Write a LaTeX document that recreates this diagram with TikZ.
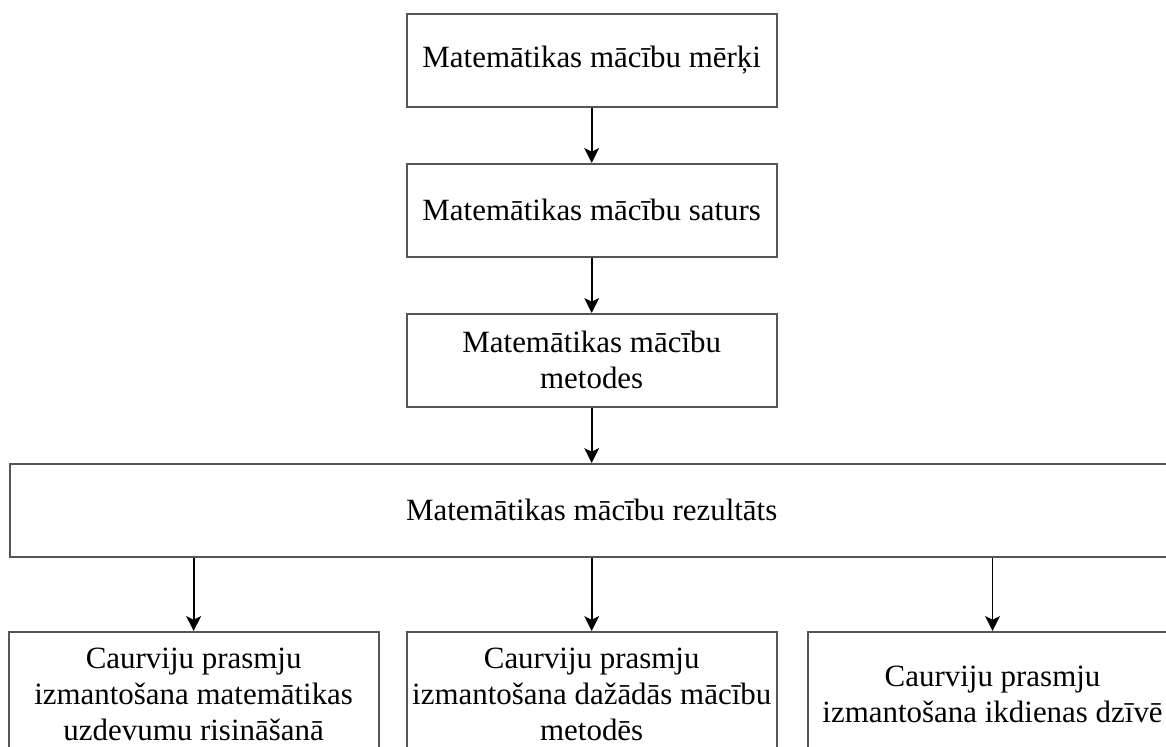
\documentclass[tikz,border=0pt]{standalone}
\usepackage{fontspec}
\setmainfont{Liberation Serif}
\usepackage{tikz}
\usetikzlibrary{arrows.meta, positioning}
\definecolor{cBorder}{RGB}{85,85,85}
\tikzset{
	stepbox/.style={rectangle, draw=cBorder, line width=1.4pt, minimum width=9.25cm, minimum height=2.32cm, text centered, align=center, inner sep=0pt, font=\fontsize{22}{25.6}\selectfont},
	widebox/.style={stepbox, minimum width=29.08cm},
	skillbox/.style={stepbox, minimum height=3.1cm},
	flowarrow/.style={-{Stealth[length=3.7mm, width=3.7mm, inset=0.9mm]}, line width=1.3pt, black},
}

\begin{document}
\begin{tikzpicture}[x=0.025cm, y=-0.025cm]
	\clip (0,0) rectangle (1166,747);
	% chain of steps
	\node[stepbox] (merki) at (591.7,60.3) {Matemātikas mācību mērķi};
	\node[stepbox, below=1.38cm of merki] (saturs) {Matemātikas mācību saturs};
	\node[stepbox, below=1.38cm of saturs] (metodes) {Matemātikas mācību\\metodes};
	\node[widebox, below=1.38cm of metodes] (rez) {Matemātikas mācību rezultāts};
	% skills row
	\node[skillbox, below=1.83cm of rez] (cB) {Caurviju prasmju\\izmantošana dažādās mācību\\metodēs};
	\node[skillbox, left=0.65cm of cB] (cA) {Caurviju prasmju\\izmantošana matemātikas\\uzdevumu risināšanā};
	\node[skillbox, right=0.72cm of cB] (cC) {Caurviju prasmju\\izmantošana ikdienas dzīvē};
	\draw[flowarrow] (merki) -- (saturs);
	\draw[flowarrow] (saturs) -- (metodes);
	\draw[flowarrow] (metodes) -- (rez);
	\foreach \n in {cA, cB, cC} {
		\draw[flowarrow] (rez.south -| \n.north) -- (\n.north);
	}
\end{tikzpicture}
\end{document}
